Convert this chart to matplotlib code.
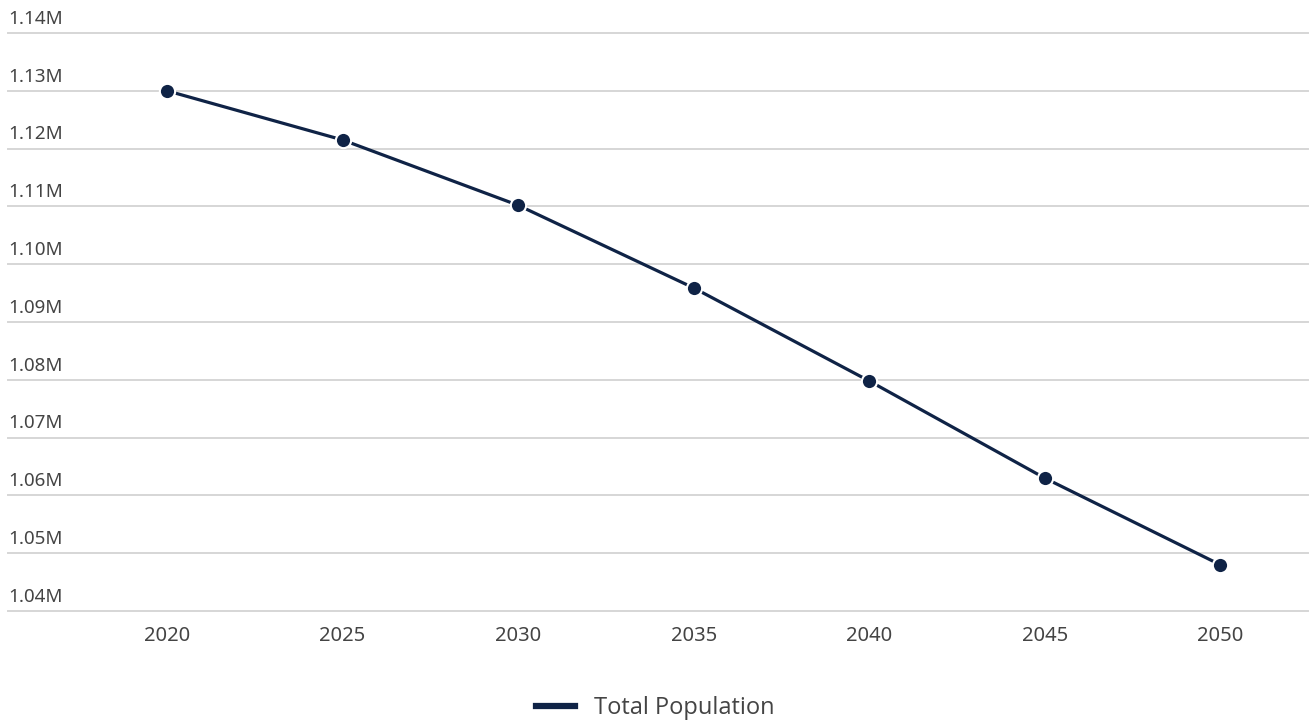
import matplotlib
matplotlib.use('Agg')
import matplotlib.pyplot as plt
import matplotlib.transforms as mtransforms

# data
years = [2020, 2025, 2030, 2035, 2040, 2045, 2050]
population = [1.1300, 1.1215, 1.1102, 1.0959, 1.0798, 1.0630, 1.0480]  # millions
y_ticks = [1.04, 1.05, 1.06, 1.07, 1.08, 1.09, 1.10, 1.11, 1.12, 1.13, 1.14]
series_name = 'Total Population'

navy = '#0f2346'
grid_col = '#d6d6d6'
text_col = '#444444'

fig = plt.figure(figsize=(13.11, 7.21), dpi=100)
ax = fig.add_axes([8 / 1311, 1 - 611 / 721, 1300 / 1311, 578 / 721])

ax.plot(years, population, color=navy, linewidth=2.3, marker='o', markersize=11,
        markerfacecolor=navy, markeredgecolor='white', markeredgewidth=1.5,
        zorder=3, label=series_name)

ax.set_ylim(1.04, 1.14)
ax.set_xlim(2015.47, 2052.5)

# horizontal gridlines with labels sitting on top, left aligned
trans = mtransforms.blended_transform_factory(ax.transAxes, ax.transData)
for v in y_ticks:
    ax.axhline(v, color=grid_col, linewidth=1.4, zorder=1, clip_on=False)
    ax.text(0.0, v + 0.0009, f'{v:.2f}M', transform=trans, ha='left', va='bottom',
            fontsize=13.5, color=text_col, family='Noto Sans')

ax.set_yticks([])
ax.set_xticks(years)
ax.set_xticklabels([str(y) for y in years], fontsize=14.5, color=text_col, family='Noto Sans')
ax.tick_params(axis='x', length=0, pad=11)
for s in ax.spines.values():
    s.set_visible(False)

leg = fig.legend(loc='center', bbox_to_anchor=(0.5, 1 - 708 / 721), frameon=False,
                 handlelength=1.65, handletextpad=0.8,
                 prop={'family': 'Open Sans', 'size': 17})
for h in leg.legend_handles:
    h.set_marker('')
    h.set_linewidth(4.5)
for t in leg.get_texts():
    t.set_color(text_col)

fig.savefig('out.png', dpi=100)
